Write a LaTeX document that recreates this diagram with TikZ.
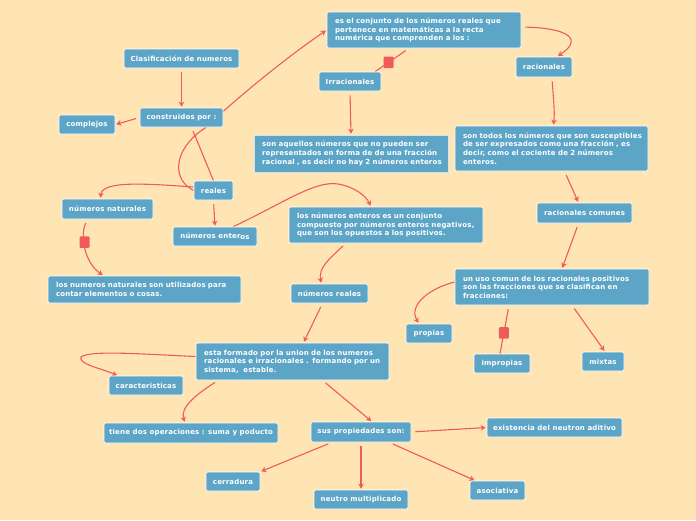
\documentclass[tikz,border=0pt]{standalone}
\usepackage{fontspec}
\newfontfamily\boxfont{DejaVu Sans}[LetterSpace=2.5]
\usetikzlibrary{arrows.meta}
\pgfdeclarelayer{bg}
\pgfdeclarelayer{lines}
\pgfsetlayers{bg,lines,main}
\definecolor{bgpeach}{HTML}{FFE5B4}
\definecolor{boxblue}{HTML}{5DA5C7}
\definecolor{linered}{HTML}{F05A5A}
\newcommand{\tline}[1]{\mbox{#1}}
\tikzset{
  bx/.style={draw=white, line width=0.6pt, fill=boxblue, rounded corners=2pt,
    text=white, inner xsep=2pt, inner ysep=0pt,
    font=\boxfont\bfseries\fontsize{7.0}{8.6}\selectfont, align=center},
  mbx/.style={bx, inner xsep=8pt, align=left},
  conn/.style={draw=linered, line width=1.1pt, shorten <=4pt, shorten >=1pt,
    -{Stealth[length=5pt,width=5.5pt,inset=1.5pt]}},
  plain/.style={draw=linered, line width=1.1pt, shorten <=4pt},
  sq/.style={fill=linered, minimum width=10pt, minimum height=11.5pt,
    rounded corners=1pt, inner sep=0pt, draw=none}
}
\begin{document}
\begin{tikzpicture}[x=1pt,y=-1pt]
\useasboundingbox (0,0) rectangle (696,520);
\begin{pgfonlayer}{bg}
\fill[bgpeach] (0,0) rectangle (696,520);
\end{pgfonlayer}

% nodes
\node[bx, minimum width=115pt, minimum height=19pt] (clas) at (181.5,58.5) {Clasificación de numeros};
\node[bx, minimum width=83pt, minimum height=19pt] (cons) at (181.5,117.5) {construidos por :};
\node[bx, minimum width=56pt, minimum height=19pt] (comp) at (87,124.5) {complejos};
\node[mbx, minimum width=194pt, minimum height=36pt, text width=178pt] (esel) at (424,30)
  {\tline{es el conjunto de los números reales que}\\\tline{pertenece en matemáticas a la recta}\\\tline{numérica que comprenden a los :}};
\node[bx, minimum width=62pt, minimum height=19pt] (irra) at (350,81.5) {Irracionales};
\node[bx, minimum width=56pt, minimum height=20pt] (raci) at (544,67) {racionales};
\node[mbx, rounded corners=0pt, draw=white!70!boxblue, minimum width=194pt, minimum height=37pt, text width=178pt] (sonaq) at (351,153.5)
  {\tline{son aquellos números que no pueden ser}\\\tline{representados en forma de de una fracción}\\\tline{racional , es decir no hay 2 números enteros}};
\node[mbx, minimum width=193pt, minimum height=45pt, text width=177pt] (sonto) at (551.5,148.5)
  {\tline{son todos los números que son susceptibles}\\\tline{de ser expresados como una fracción , es}\\\tline{decir, como el cociente de 2 números}\\\tline{enteros.}};
\node[bx, minimum width=39pt, minimum height=19pt] (reales) at (213.5,190.5) {reales};
\node[bx, minimum width=91pt, minimum height=20pt] (nnat) at (107.5,209) {números naturales};
\node[bx, minimum width=84pt, minimum height=19pt] (nent) at (215,236.5) {números enter\raisebox{-1pt}{os}};
\node[mbx, minimum width=193pt, minimum height=27pt, text width=177pt] (lnn) at (144.5,289.5)
  {\tline{los numeros naturales son utilizados para}\\\tline{contar elementos o cosas.}};
\node[mbx, minimum width=194pt, minimum height=36pt, text width=178pt] (lne) at (386,225)
  {\tline{los números enteros es un conjunto}\\\tline{compuesto por números enteros negativos,}\\\tline{que son los opuestos a los positivos.}};
\node[bx, minimum width=95pt, minimum height=20pt] (rcom) at (584.5,213) {racionales comunes};
\node[mbx, minimum width=194pt, minimum height=36pt, text width=178pt] (uso) at (552,287)
  {\tline{un uso comun de los racionales positivos}\\\tline{son las fracciones que se clasifican en}\\\tline{fracciones:}};
\node[bx, minimum width=77pt, minimum height=19pt] (nre) at (329.5,293.5) {números reales};
\node[mbx, minimum width=193pt, minimum height=37pt, text width=177pt] (esta) at (292.5,361.5)
  {\tline{esta formado por la union de los numeros}\\\tline{racionales e irracionales . formando por un}\\\tline{sistema,\ \ estable.}};
\node[bx, minimum width=74pt, minimum height=19pt] (cara) at (146,385.5) {caracteristicas};
\node[bx, minimum width=174pt, minimum height=20pt] (tiene) at (191,433) {tiene dos operaciones : suma y poducto};
\node[bx, minimum width=100pt, minimum height=20pt] (sus) at (361,432) {sus propiedades son:};
\node[bx, minimum width=54pt, minimum height=19pt] (cerr) at (233,481.5) {cerradura};
\node[bx, minimum width=94pt, minimum height=19pt] (neut) at (361,499.5) {neutro multiplicado};
\node[bx, minimum width=55pt, minimum height=19pt] (asoc) at (497.5,490.5) {asociativa};
\node[bx, minimum width=135pt, minimum height=19pt] (exis) at (554.5,427.5) {existencia del neutron aditivo};
\node[bx, minimum width=46pt, minimum height=19pt] (prop) at (429,333.5) {propias};
\node[bx, minimum width=56pt, minimum height=19pt] (impr) at (502,363.5) {impropias};
\node[bx, minimum width=42pt, minimum height=19pt] (mixt) at (603,361.5) {mixtas};

% connectors
\begin{pgfonlayer}{lines}
\draw[conn] (clas.south) -- (cons.north);
\draw[conn] (cons.west) -- (comp.east);
\draw[plain] ([xshift=10pt]cons.south) -- (reales.north);
\draw[conn, shorten <=0pt] (reales.west) .. controls (172,180) and (172,150) .. (205,128)
  .. controls (240,95) and (290,55) .. (esel.west);
\draw[plain] ([xshift=-15pt]esel.south) -- node[sq, pos=0.6]{} ([xshift=25pt]irra.north);
\draw[conn] ([yshift=3pt]esel.east) .. controls (565,28) and (585,38) .. ([xshift=13pt]raci.north);
\draw[conn] (irra.south) -- (sonaq.north);
\draw[conn] ([xshift=8pt]raci.south) .. controls (553,95) and (555,110) .. ([xshift=2pt]sonto.north);
\draw[conn] ([xshift=13pt]sonto.south) -- ([xshift=-6pt]rcom.north);
\draw[conn] ([xshift=-6pt]rcom.south) -- ([xshift=10pt]uso.north);
\draw[conn, shorten <=0pt] ([yshift=5pt]uso.west) .. controls (430,288) and (408,305) .. ([xshift=-10pt]prop.north);
\draw[plain] ([xshift=-43pt]uso.south) -- node[sq, pos=0.57]{} ([xshift=-2pt]impr.north);
\draw[conn] ([xshift=20pt]uso.south) -- ([xshift=2pt]mixt.north);
\draw[conn, shorten <=0pt] ([yshift=3.5pt]reales.west) .. controls (150,184) and (102,180) .. ([xshift=-7pt]nnat.north);
\draw[conn] (reales.south) -- (nent.north);
\draw[conn] ([xshift=-20pt]nnat.south) .. controls (80,235) and (84,262) .. ([xshift=-41pt]lnn.north);
\node[sq] (sqn) at (84.5,242) {};
\draw[conn, shorten <=0pt] ([xshift=18pt]nent.north) .. controls (280,205) and (315,180) .. (338,184)
  .. controls (355,187) and (366,196) .. ([xshift=-15pt]lne.north);
\draw[conn] ([xshift=-40pt]lne.south) .. controls (330,258) and (318,268) .. ([xshift=-8pt]nre.north);
\draw[conn] ([xshift=-7pt]nre.south) -- ([xshift=11pt]esta.north);
\draw[conn, shorten <=0pt] ([yshift=5pt]esta.west) .. controls (140,354) and (90,350) .. (81,357)
  .. controls (78,364) and (100,368) .. ([xshift=-28pt]cara.north);
\draw[conn] ([xshift=-74pt]esta.south) .. controls (195,395) and (180,408) .. ([xshift=-6pt]tiene.north);
\draw[conn] ([xshift=30pt]esta.south) -- ([xshift=11pt]sus.north);
\draw[conn] (sus.east) -- (exis.west);
\draw[conn] ([xshift=-29pt]sus.south) -- (cerr.north east);
\draw[conn] (sus.south) -- (neut.north);
\draw[conn] ([xshift=28pt]sus.south) -- ([xshift=-22pt]asoc.north);
\end{pgfonlayer}
\end{tikzpicture}
\end{document}
